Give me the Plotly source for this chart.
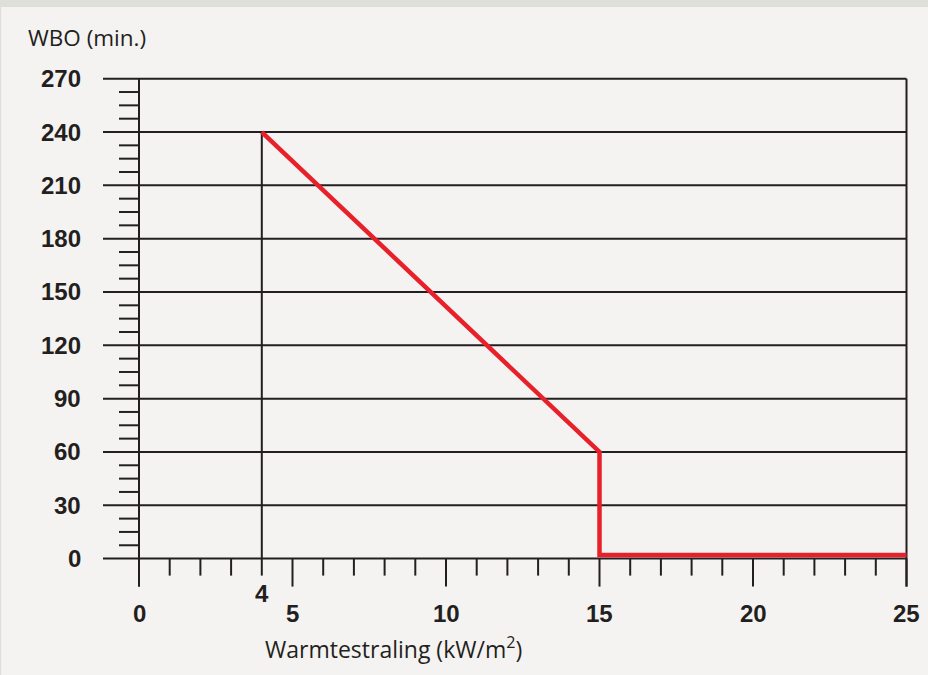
import plotly.graph_objects as go

# ---------------- data ----------------
x_major_ticks = [0, 5, 10, 15, 20, 25]
x_minor_ticks = list(range(0, 26))
x_marker_value = 4
y_ticks = [0, 30, 60, 90, 120, 150, 180, 210, 240, 270]
y_minor_per_major = 4  # subdivisions between labelled y values (every 7.5)

curve_x = [4, 15, 15, 25]
curve_y = [240, 60, 2, 2]

y_title = "WBO (min.)"
x_title = "Warmtestraling (kW/m<sup>2</sup>)"

# ---------------- geometry (pixels) ----------------
W, H = 928, 675
X0_PX, X25_PX = 139.0, 906.5
Y0_PX, Y270_PX = 558.6, 78.7
kx = (X25_PX - X0_PX) / 25.0
ky = (Y0_PX - Y270_PX) / 270.0

def dx(px):
    return px / kx

def dy(px):
    return px / ky

INK = "#231f20"
RED = "#e8202a"
BG = "#f4f3f1"
BAND = "#dfdfda"
NUM_FONT = "Liberation Sans"
TXT_FONT = "Open Sans"

fig = go.Figure()

def add_segments(segs, color=INK, width=2):
    xs, ys = [], []
    for (xa, ya, xb, yb) in segs:
        xs += [xa, xb, None]
        ys += [ya, yb, None]
    fig.add_trace(go.Scatter(x=xs, y=ys, mode="lines",
                             line=dict(color=color, width=width, simplify=False),
                             hoverinfo="skip", showlegend=False))

ymax = max(y_ticks)
xmax = max(x_major_ticks)

grid = [(-dx(36), v, xmax, v) for v in y_ticks]
minor_y = []
for a, b in zip(y_ticks[:-1], y_ticks[1:]):
    step = (b - a) / y_minor_per_major
    for i in range(1, y_minor_per_major):
        vv = a + i * step
        minor_y.append((-dx(20), vv, 0, vv))
axes = [(0, ymax, 0, -dy(28)), (xmax, ymax, xmax, -dy(28))]
xt = []
for t in x_minor_ticks:
    if t in x_major_ticks:
        xt.append((t, 0, t, -dy(28)))
    else:
        xt.append((t, 0, t, -dy(17)))
marker = [(x_marker_value, 240, x_marker_value, 0)]

add_segments(grid + minor_y + axes + xt + marker)

fig.add_trace(go.Scatter(x=curve_x, y=curve_y, mode="lines",
                         line=dict(color=RED, width=4.5),
                         hoverinfo="skip", showlegend=False))

def num_font():
    return dict(family=NUM_FONT, size=24, color=INK, weight="bold")

ann = []
for v in y_ticks:
    ann.append(dict(x=-dx(X0_PX - 83), y=v, text=str(v), xanchor="right", yanchor="middle",
                    showarrow=False, font=num_font()))
for t in x_major_ticks:
    ann.append(dict(x=t, y=-dy(613 - Y0_PX), text=str(t), xanchor="center", yanchor="middle",
                    showarrow=False, font=num_font()))
ann.append(dict(x=x_marker_value, y=-dy(593.5 - Y0_PX), text=str(x_marker_value),
                xanchor="center", yanchor="middle", showarrow=False, font=num_font()))
ann.append(dict(x=-dx(X0_PX - 26), y=dy(Y0_PX - 37), text=y_title, xanchor="left",
                yanchor="middle", showarrow=False,
                font=dict(family=TXT_FONT, size=22.5, color=INK)))
ann.append(dict(x=dx(393 - X0_PX), y=-dy(648 - Y0_PX), text=x_title, xanchor="center",
                yanchor="middle", showarrow=False,
                font=dict(family=TXT_FONT, size=23, color=INK)))

fig.update_layout(
    width=W, height=H,
    margin=dict(l=0, r=0, t=0, b=0, pad=0),
    paper_bgcolor=BG, plot_bgcolor=BG,
    xaxis=dict(range=[-dx(X0_PX), dx(W - X0_PX)], visible=False, fixedrange=True),
    yaxis=dict(range=[-dy(H - Y0_PX), dy(Y0_PX)], visible=False, fixedrange=True),
    annotations=ann,
    shapes=[
        dict(type="rect", xref="paper", yref="paper", x0=0, x1=1, y0=1 - 7 / H, y1=1,
             fillcolor=BAND, line=dict(width=0), layer="below"),
        dict(type="rect", xref="paper", yref="paper", x0=0, x1=1.2 / W, y0=0, y1=1,
             fillcolor=BAND, line=dict(width=0), layer="below"),
    ],
)

fig.write_html("out.html", config={"staticPlot": True},
               post_script="document.body.style.margin='0';document.body.style.overflow='hidden';")
